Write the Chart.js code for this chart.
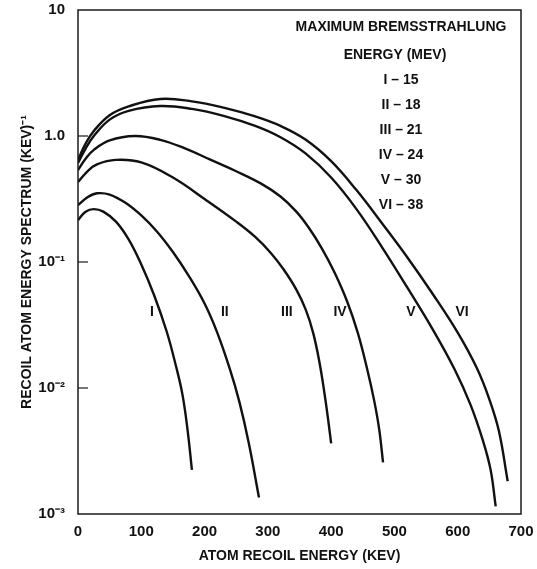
<!DOCTYPE html>
<html>
<head>
<meta charset="utf-8">
<script src="https://cdn.jsdelivr.net/npm/chart.js@4.4.1/dist/chart.umd.min.js"></script>
<style>
    html, body { margin: 0; padding: 0; background: #fff; }
    canvas { display: block; }
</style>
</head>
<body>
<canvas id="grafico" width="537" height="569"></canvas>
<script>
// energia de recuo (keV) e espectro (keV^-1)
const energiaI = [0, 12, 25, 40, 60, 80, 100, 120, 140, 155, 165, 173, 180];
const espectroI = [0.215, 0.251, 0.263, 0.251, 0.209, 0.151, 0.0955, 0.055, 0.0282, 0.0148, 0.0089, 0.0047, 0.00224];

const energiaII = [0, 15, 30, 50, 75, 100, 125, 150, 175, 200, 220, 240, 255, 270, 286];
const espectroII = [0.283, 0.327, 0.351, 0.343, 0.295, 0.234, 0.174, 0.120, 0.0776, 0.0468, 0.0275, 0.0141, 0.00776, 0.00363, 0.00135];

const energiaIII = [0, 15, 30, 60, 100, 150, 200, 250, 280, 305, 325, 345, 360, 372, 382, 390, 396, 400];
const espectroIII = [0.431, 0.525, 0.596, 0.646, 0.617, 0.468, 0.316, 0.209, 0.158, 0.1175, 0.0871, 0.0603, 0.0417, 0.0269, 0.0155, 0.0087, 0.00525, 0.00363];

const energiaIV = [0, 12, 25, 50, 90, 130, 170, 210, 250, 290, 320, 345, 365, 385, 405, 425, 442, 457, 468, 476, 482];
const espectroIV = [0.537, 0.661, 0.776, 0.923, 1.0, 0.933, 0.794, 0.646, 0.525, 0.417, 0.331, 0.251, 0.186, 0.129, 0.0832, 0.049, 0.0275, 0.0141, 0.00794, 0.00468, 0.00257];

const energiaV = [0, 12, 25, 50, 80, 130, 180, 230, 280, 320, 360, 400, 440, 480, 520, 560, 595, 620, 640, 652, 660];
const espectroV = [0.611, 0.794, 1.0, 1.349, 1.585, 1.73, 1.64, 1.445, 1.202, 0.977, 0.724, 0.468, 0.263, 0.132, 0.0631, 0.0295, 0.0141, 0.00741, 0.0038, 0.00224, 0.00115];

const energiaVI = [0, 12, 25, 50, 80, 130, 180, 230, 280, 320, 360, 400, 440, 480, 520, 560, 600, 630, 650, 665, 679];
const espectroVI = [0.646, 0.871, 1.096, 1.462, 1.718, 1.968, 1.884, 1.679, 1.429, 1.202, 0.933, 0.631, 0.372, 0.204, 0.1096, 0.0562, 0.0275, 0.01445, 0.00813, 0.00457, 0.00182];

const nomesCurvas = ['I', 'II', 'III', 'IV', 'V', 'VI'];
const energiasRotulos = [117, 232, 330, 414, 526, 607];
const espectroRotulos = 0.040;

const textoLegenda = ['MAXIMUM BREMSSTRAHLUNG', 'ENERGY (MEV)', 'I – 15', 'II – 18', 'III – 21', 'IV – 24', 'V – 30', 'VI – 38'];

const valoresTicksY = [0.001, 0.01, 0.1, 1, 10];
const rotulosTicksY = ['10⁻³', '10⁻²', '10⁻¹', '1.0', '10'];
const ticksInternos = [0.01, 0.1, 1];

const curvas = [
    [energiaI, espectroI],
    [energiaII, espectroII],
    [energiaIII, espectroIII],
    [energiaIV, espectroIV],
    [energiaV, espectroV],
    [energiaVI, espectroVI]
];

const fonte = '"Liberation Sans", Arial, sans-serif';

// moldura, risquinhos internos e textos soltos
const pluginTextos = {
    id: 'textos',
    afterDraw(chart) {
        const ctx = chart.ctx;
        const { left, top, right, bottom } = chart.chartArea;
        const eixoX = chart.scales.x;
        const eixoY = chart.scales.y;
        ctx.save();
        ctx.strokeStyle = '#1a1a1a';
        ctx.lineWidth = 1.5;
        ctx.strokeRect(left, top, right - left, bottom - top);

        ctx.lineWidth = 1.2;
        ticksInternos.forEach(v => {
            const py = eixoY.getPixelForValue(v);
            ctx.beginPath();
            ctx.moveTo(left, py);
            ctx.lineTo(left + 10, py);
            ctx.stroke();
        });

        ctx.fillStyle = '#111';
        ctx.font = 'bold 14px ' + fonte;
        ctx.textAlign = 'center';
        ctx.textBaseline = 'middle';
        textoLegenda.forEach((t, i) => {
            const py = i === 0 ? 27 : 55 + (i - 1) * 25;
            ctx.fillText(t, i === 1 ? 395 : 401, py);
        });

        nomesCurvas.forEach((n, i) => {
            ctx.fillText(n, eixoX.getPixelForValue(energiasRotulos[i]), eixoY.getPixelForValue(espectroRotulos));
        });
        ctx.restore();
    }
};

const canva = document.getElementById('grafico').getContext('2d');
const grafico = new Chart(canva, {
    type: 'line',
    data: {
        datasets: curvas.map((c, i) => ({
            label: nomesCurvas[i],
            data: c[0].map((x, j) => ({ x: x, y: c[1][j] })),
            borderColor: '#111',
            borderWidth: 2.4,
            pointRadius: 0,
            fill: false,
            tension: 0.4
        }))
    },
    options: {
        responsive: false,
        animation: false,
        devicePixelRatio: 1,
        layout: { padding: { left: 0, top: 10, right: 16, bottom: 0 } },
        plugins: {
            legend: { display: false },
            tooltip: { enabled: false }
        },
        scales: {
            x: {
                type: 'linear',
                min: 0,
                max: 700,
                afterFit(scale) {
                    scale.height = 55;
                    scale.paddingLeft = 0;
                    scale.paddingRight = 0;
                },
                grid: { display: false, drawTicks: false },
                border: { display: false },
                ticks: {
                    stepSize: 100,
                    padding: 9,
                    color: '#111',
                    font: { family: fonte, size: 15, weight: 'bold' }
                },
                title: {
                    display: true,
                    text: 'ATOM RECOIL ENERGY (KEV)',
                    color: '#111',
                    padding: { top: 0, bottom: 4 },
                    font: { family: fonte, size: 14, weight: 'bold' }
                }
            },
            y: {
                type: 'logarithmic',
                min: 0.001,
                max: 10,
                afterFit(scale) {
                    scale.width = 78;
                    scale.paddingTop = 0;
                    scale.paddingBottom = 0;
                },
                afterBuildTicks(scale) {
                    scale.ticks = valoresTicksY.map(v => ({ value: v }));
                },
                grid: { display: false, drawTicks: false },
                border: { display: false },
                ticks: {
                    padding: 13,
                    color: '#111',
                    font: { family: fonte, size: 15, weight: 'bold' },
                    callback: (v) => {
                        const i = valoresTicksY.indexOf(v);
                        return i >= 0 ? rotulosTicksY[i] : '';
                    }
                },
                title: {
                    display: true,
                    text: 'RECOIL ATOM ENERGY SPECTRUM (KEV)⁻¹',
                    color: '#111',
                    padding: { top: 19, bottom: 0 },
                    font: { family: fonte, size: 14, weight: 'bold' }
                }
            }
        }
    },
    plugins: [pluginTextos]
});
</script>
</body>
</html>
